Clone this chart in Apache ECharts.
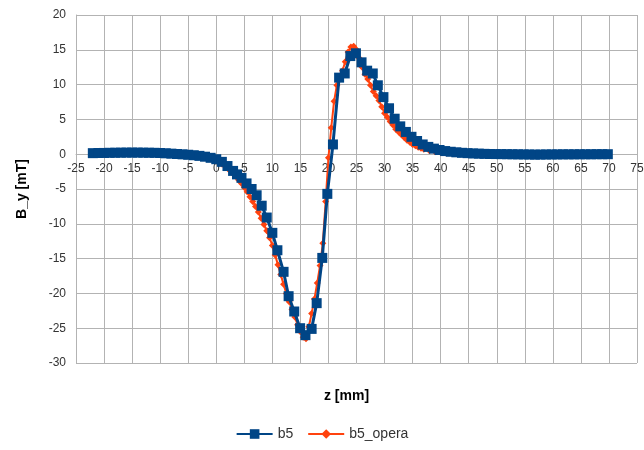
<!DOCTYPE html>
<html>
<head>
<meta charset="utf-8">
<script src="https://cdn.jsdelivr.net/npm/echarts@6/dist/echarts.min.js"></script>
<style>
html,body{margin:0;padding:0;background:#fff;}
#chart{width:644px;height:450px;}
</style>
</head>
<body>
<div id="chart"></div>
<script>
// ---- data ----
var zB5 = [-22,-21,-20,-19,-18,-17,-16,-15,-14,-13,-12,-11,-10,-9,-8,-7,-6,-5,-4,-3,-2,-1,0,1,2,3,3.7,4.5,5.4,6.3,7.2,8.1,9.0,10.0,10.9,12.0,12.9,13.9,14.95,15.9,17.0,17.9,18.9,19.8,20.8,21.9,22.9,23.9,24.9,25.9,26.9,27.9,28.8,29.8,30.8,31.8,32.8,33.8,34.8,35.8,36.8,37.8,38.8,39.8,40.8,41.8,42.8,43.8,44.8,45.8,46.8,47.8,48.8,49.8,50.8,51.8,52.8,53.8,54.8,55.8,56.8,57.8,58.8,59.8,60.8,61.8,62.8,63.8,64.8,65.8,66.8,67.8,68.8,69.8];
var yB5 = [0.15,0.17,0.18,0.2,0.21,0.22,0.23,0.23,0.23,0.22,0.21,0.2,0.17,0.13,0.08,0.03,-0.02,-0.08,-0.15,-0.24,-0.36,-0.52,-0.72,-1.1,-1.7,-2.4,-2.9,-3.4,-4.2,-5.0,-5.9,-7.4,-9.1,-11.3,-13.8,-16.9,-20.4,-22.6,-25.0,-26.0,-25.1,-21.4,-14.9,-5.7,1.4,11.0,11.6,14.1,14.5,13.2,12.0,11.6,9.9,8.2,6.6,5.1,4.0,3.2,2.5,1.9,1.4,1.05,0.8,0.6,0.45,0.35,0.27,0.2,0.15,0.11,0.08,0.05,0.03,0.02,0.01,0.0,-0.01,-0.02,-0.03,-0.04,-0.06,-0.05,-0.04,-0.03,-0.03,-0.02,-0.02,-0.02,-0.01,-0.01,-0.01,0.0,0.0,0.0];

var zOpera = [-22,-21,-20,-19,-18,-17,-16,-15,-14,-13,-12,-11,-10,-9,-8,-7,-6,-5,-4,-3,-2,-1,0,0.5,1,1.5,2,2.5,3,3.5,4,4.5,5,5.5,6,6.5,7,7.5,8,8.5,9,9.5,10,10.5,11,11.5,12,12.5,13,13.5,14,14.5,15,15.5,16,16.5,17,17.5,18,18.5,19,19.5,20,20.5,21,21.5,22,22.5,23,23.5,24,24.5,25,25.5,26,26.5,27,27.5,28,28.5,29,29.5,30,30.5,31,31.5,32,32.5,33,33.5,34,34.5,35,35.5,36,36.5,37,38,39,40,41,42,43,44,45,46,47,48,49,50,52,54,56,58,60,62,64,66,68,70];
var yOpera = [0.12,0.14,0.16,0.18,0.19,0.2,0.2,0.2,0.2,0.19,0.18,0.16,0.13,0.09,0.05,0.0,-0.06,-0.13,-0.22,-0.33,-0.48,-0.68,-0.95,-1.15,-1.4,-1.7,-2.0,-2.4,-2.8,-3.2,-3.7,-4.2,-4.8,-5.4,-6.1,-6.8,-7.5,-8.3,-9.2,-10.1,-11.0,-12.0,-13.1,-14.5,-15.9,-17.3,-18.7,-20.0,-21.2,-22.3,-23.4,-24.5,-25.5,-26.3,-26.5,-24.8,-22.9,-20.8,-18.5,-16.0,-12.8,-6.8,-0.5,3.8,7.6,9.9,11.0,12.0,13.3,14.7,15.4,15.5,15.0,13.8,12.5,11.5,10.8,9.9,9.0,8.4,7.7,6.8,5.9,5.3,4.7,4.2,3.6,3.2,2.8,2.4,2.0,1.7,1.4,1.2,1.0,0.85,0.7,0.5,0.35,0.25,0.18,0.12,0.08,0.05,0.03,0.02,0.01,0.0,0.0,0.0,0.0,0.0,0.0,0.0,0.0,0.0,0.0,0.0,0.0,0.0];

var xRange = [-25, 75, 5];   // min, max, interval
var yRange = [-30, 20, 5];

function pairs(xs, ys){ return xs.map(function(x,i){ return [x, ys[i]]; }); }

var W = 644, H = 450;
var gTop = 15, gBottom = 87;
var gHeight = H - gTop - gBottom;
// place x axis (line + labels) at the y = 0 position, like the reference
var zeroFromBottom = gHeight * (0 - yRange[0]) / (yRange[1] - yRange[0]);

var chart = echarts.init(document.getElementById('chart'), null, {renderer:'canvas'});
var font = 'Liberation Sans, Arial, sans-serif';
chart.setOption({
  animation:false,
  backgroundColor:'#ffffff',
  textStyle:{fontFamily:font},
  grid:{left:76, right:7, top:gTop, bottom:gBottom, containLabel:false, outerBoundsMode:'none'},
  legend:{
    bottom:4, left:'center',
    itemWidth:36, itemHeight:12, itemGap:14,
    textStyle:{fontSize:14, color:'#333', fontFamily:font},
    data:['b5','b5_opera']
  },
  xAxis:{
    type:'value', min:xRange[0], max:xRange[1], interval:xRange[2],
    position:'bottom', offset:-zeroFromBottom,
    name:'z [mm]', nameLocation:'middle', nameGap:235,
    nameTextStyle:{fontSize:14, fontWeight:'bold', color:'#000', fontFamily:font, padding:[0,20,0,0]},
    axisLine:{show:true, onZero:false, lineStyle:{color:'#b3b3b3'}},
    axisTick:{show:false},
    axisLabel:{fontSize:12, color:'#333', margin:8},
    splitLine:{show:true, lineStyle:{color:'#b3b3b3', width:1}}
  },
  yAxis:{
    type:'value', min:yRange[0], max:yRange[1], interval:yRange[2],
    name:'B_y [mT]', nameLocation:'middle', nameGap:47, nameRotate:90,
    nameTextStyle:{fontSize:14, fontWeight:'bold', color:'#000', fontFamily:font},
    axisLine:{show:true, onZero:false, lineStyle:{color:'#b3b3b3'}},
    axisTick:{show:false},
    axisLabel:{fontSize:12, color:'#333', margin:10},
    splitLine:{show:true, lineStyle:{color:'#b3b3b3', width:1}}
  },
  series:[
    {
      name:'b5_opera', type:'line', z:2,
      data:pairs(zOpera, yOpera),
      symbol:'diamond', symbolSize:7, showAllSymbol:true,
      itemStyle:{color:'#ff420e'},
      lineStyle:{color:'#ff420e', width:2}
    },
    {
      name:'b5', type:'line', z:3,
      data:pairs(zB5, yB5),
      symbol:'rect', symbolSize:10, showAllSymbol:true,
      itemStyle:{color:'#004586'},
      lineStyle:{color:'#004586', width:3}
    }
  ]
});
</script>
</body>
</html>
